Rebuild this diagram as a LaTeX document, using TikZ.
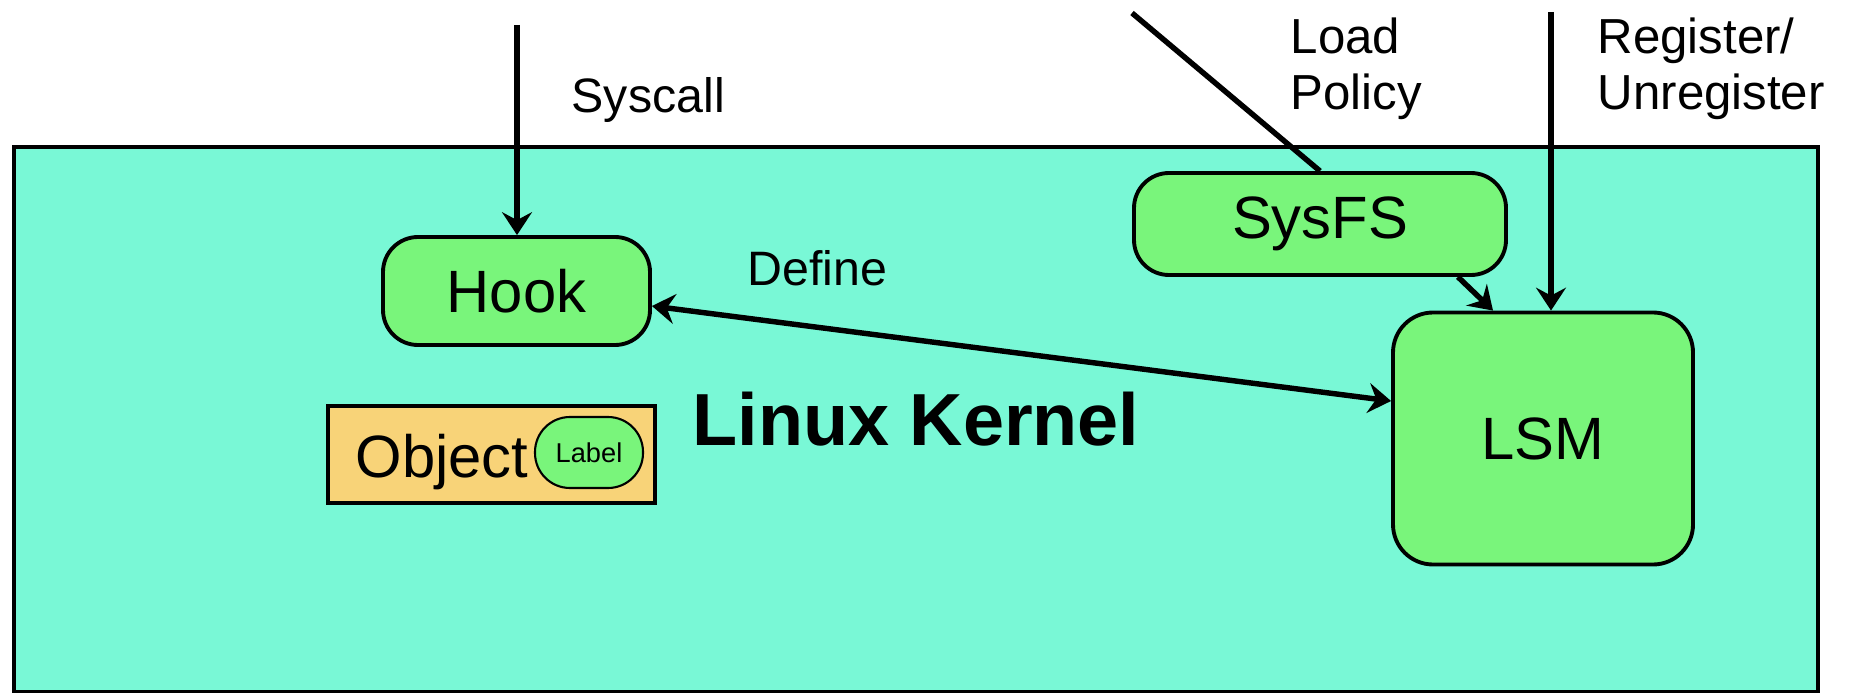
\documentclass[tikz,border=0pt]{standalone}
\usepackage{fontspec}
\setmainfont{Liberation Sans}
\usepackage{tikz}
\usetikzlibrary{arrows.meta,positioning}

\definecolor{kernelbg}{HTML}{79F8D6}
\definecolor{boxgreen}{HTML}{79F57B}
\definecolor{objorange}{HTML}{F8D378}

\begin{document}
\begin{tikzpicture}[>={Stealth[length=13pt,width=17pt,inset=4.5pt]},line width=3.1pt,
    kbox/.style={draw=black,line width=2.2pt,rounded corners=0.7cm,fill=boxgreen,
                 font=\fontsize{34}{40}\selectfont,inner sep=0pt},
    lbl/.style={font=\fontsize{28}{32.3}\selectfont,anchor=base west,inner sep=0pt,align=left}]

  \useasboundingbox (0,0) rectangle (36.98,-13.86);

  % kernel area
  \node[draw=black, line width=2.2pt, fill=kernelbg, minimum width=36.08cm, minimum height=10.9cm,
        font=\fontsize{42}{48}\selectfont\bfseries] (kernel) at (18.32,-8.39) {Linux Kernel};

  \node[kbox, minimum width=5.34cm, minimum height=2.16cm] (hook) at (10.33,-5.82) {Hook};
  \node[kbox, minimum width=7.44cm, minimum height=2.04cm] (sysfs) at (26.4,-4.48) {SysFS};
  \node[kbox, rounded corners=0.8cm, minimum width=6cm, minimum height=5.04cm] (lsm) at (30.86,-8.77) {LSM};

  % object with its label
  \node[draw=black, line width=2pt, fill=objorange, minimum width=6.54cm, minimum height=1.94cm] (obj) at (9.83,-9.09) {};
  \node[font=\fontsize{34}{40}\selectfont, anchor=base west, inner sep=0pt] (objtxt) at (7.06,-9.54) {Object};
  \node[draw=black, line width=1.2pt, fill=boxgreen, rounded corners=0.7cm, minimum width=2.16cm, minimum height=1.42cm,
        inner sep=0pt, font=\fontsize{15.5}{18}\selectfont] (lbl) at (11.78,-9.05) {Label};

  % free ends outside the kernel
  \coordinate (sysin) at (10.34,-0.5);
  \coordinate (loadin) at (22.64,-0.26);
  \coordinate (regin) at (31.02,-0.24);

  \draw[->] (sysin) -- (sysin |- hook.north);
  \draw (loadin) -- (sysfs.north);
  \draw[->] (regin) -- (regin |- lsm.north);
  \draw[->] ([xshift=-1cm]sysfs.south east) -- ([xshift=-1cm]lsm.north);
  \draw[<->] ([yshift=-0.3cm]hook.east) -- ([yshift=0.75cm]lsm.west);

  \node[lbl, font=\fontsize{27.5}{32}\selectfont] (tsys) at (11.38,-2.26) {Syscall};
  \node[lbl, font=\fontsize{27.5}{32}\selectfont] (tdef) at (14.9,-5.7) {Define};
  \node[lbl] (tload) at (25.76,-2.2) {Load\\Policy};
  \node[lbl] (treg) at (31.9,-2.2) {Register/\\Unregister};
\end{tikzpicture}
\end{document}
